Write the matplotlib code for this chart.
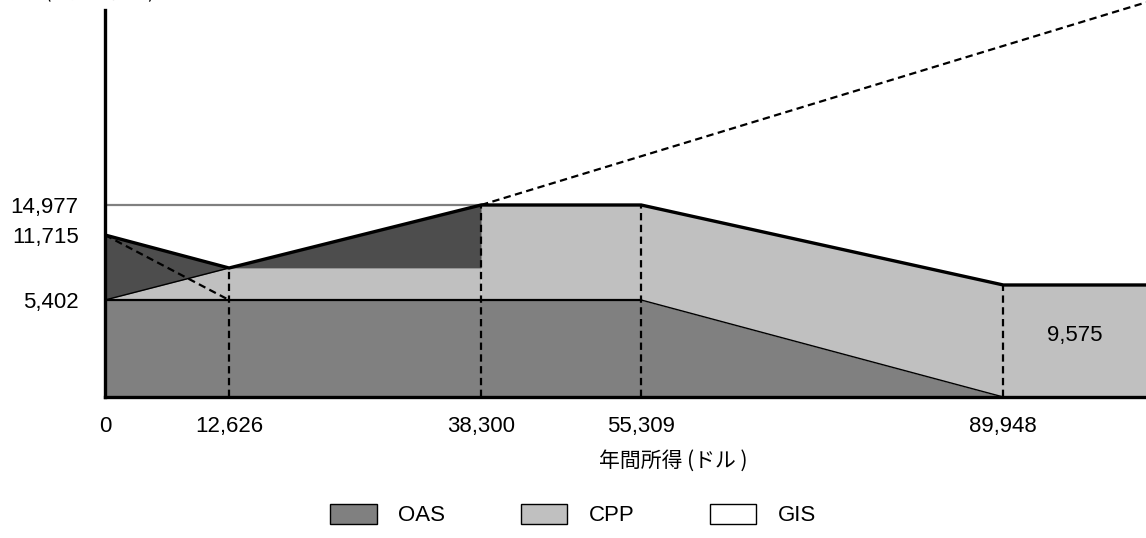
import numpy as np
import matplotlib
matplotlib.use("Agg")
import matplotlib.pyplot as plt
from matplotlib.patches import Patch

plt.rcParams["font.family"] = ["Liberation Sans", "Noto Sans CJK JP"]

# break points of annual income (dollars)
income = [0, 12626, 38300, 55309, 89948]
x_end = 103600                      # right edge of the chart
oas = [5402, 5402, 5402, 5402, 0, 0]
cpp_top = [5402, 8510, 8510]        # top of CPP band up to 38,300
total = [11715, 8510, 14977, 14977, 6860, 6860]
gis_drop = [11715, 5402]            # dashed GIS reduction, 0 -> 12,626
diag_end = 37000                    # dashed line leaving the top right corner
y_ticks = [5402, 11715, 14977]
cpp_note = "9,575"
legend_names = ["OAS", "CPP", "GIS"]
legend_colors = ["#808080", "#c0c0c0", "#ffffff"]

DARK = "#4d4d4d"
MID = "#808080"
LIGHT = "#c0c0c0"


def piecewise(vals, pos):
    vals = np.asarray(vals, float)
    pos = np.asarray(pos, float)
    return (lambda v: np.interp(v, vals, pos),
            lambda p: np.interp(p, pos, vals))


# the original drawing is schematic, so both axes are piecewise linear
x_fwd, x_inv = piecewise([-1e5, 0, 12626, 38300, 55309, 89948, 3e5],
                         [-1e5 / 100, 0, 124, 376, 536, 898, 898 + (3e5 - 89948) / 95.7])
y_fwd, y_inv = piecewise([-1e5, 0, 5402, 11715, 14977, 1e5],
                         [-1e5 / 55.7, 0, 97, 162, 192, 192 + (1e5 - 14977) / 108.7])

xs = income + [x_end]

fig = plt.figure(figsize=(11.46, 5.38), dpi=100)
ax = fig.add_axes([105 / 1146, 141 / 538, 1041 / 1146, 387 / 538])
ax.set_xscale("function", functions=(x_fwd, x_inv))
ax.set_yscale("function", functions=(y_fwd, y_inv))

# filled areas
ax.fill_between(xs, 0, oas, color=MID, lw=0)
ax.fill_between(xs[:3], oas[:3], cpp_top, color=LIGHT, lw=0)
ax.fill_between(xs[2:], oas[2:], total[2:], color=LIGHT, lw=0)
ax.fill_between(xs[:3], cpp_top, total[:3], color=DARK, lw=0)

# outlines
ax.plot(xs[:4], oas[:4], color="black", lw=1.6)
ax.plot(xs[3:5], oas[3:5], color="black", lw=1.0)
ax.plot(xs[:2], cpp_top[:2], color="black", lw=1.0)
ax.plot(xs[:3], [total[2]] * 3, color=MID, lw=1.6)
ax.plot(xs, total, color="black", lw=2.4, solid_joinstyle="miter")

dash = (0, (3.3, 2.0))
ax.vlines(income[1:], 0, total[1:5], colors="black", lw=1.6, linestyles=dash)
ax.plot(xs[:2], gis_drop, color="black", lw=1.6, ls=dash)
ax.plot([income[2], x_end], [total[2], diag_end], color="black", lw=1.6, ls=dash,
        clip_on=False)

ax.text((income[4] + x_end) / 2, total[4] / 2, cpp_note, fontsize=16,
        ha="center", va="center")

ax.set_xlim(0, x_end)
ax.set_ylim(0, y_inv(387))
ax.set_xticks(income)
ax.set_xticklabels([f"{v:,}" for v in income])
ax.set_yticks(y_ticks)
ax.set_yticklabels([f"{v:,}" for v in y_ticks])
ax.minorticks_off()
ax.tick_params(axis="both", length=0, labelsize=16)
ax.tick_params(axis="x", pad=14)
ax.tick_params(axis="y", pad=19)

for side in ["top", "right"]:
    ax.spines[side].set_visible(False)
for side in ["left", "bottom"]:
    ax.spines[side].set_linewidth(2.4)
    ax.spines[side].set_zorder(5)

fig.text(673 / 1146, 1 - 461 / 538, "年間所得 (ドル )", fontsize=15,
         ha="center", va="center", family=["Noto Sans CJK JP", "Liberation Sans"])
# unit label, mostly cut off at the top edge in the original
fig.text(100 / 1146, 1 + 7 / 538, "(年間受給額)", fontsize=14,
         ha="center", va="center", family=["Noto Sans CJK JP", "Liberation Sans"])

handles = [Patch(facecolor=c, edgecolor="black", lw=1.0) for c in legend_colors]
fig.legend(handles, legend_names, loc="center", ncol=3, frameon=False,
           bbox_to_anchor=(573 / 1146, 1 - 515 / 538), fontsize=16,
           handlelength=2.1, handleheight=1.0, handletextpad=0.95,
           columnspacing=3.4)

fig.savefig("out.png", dpi=100)
